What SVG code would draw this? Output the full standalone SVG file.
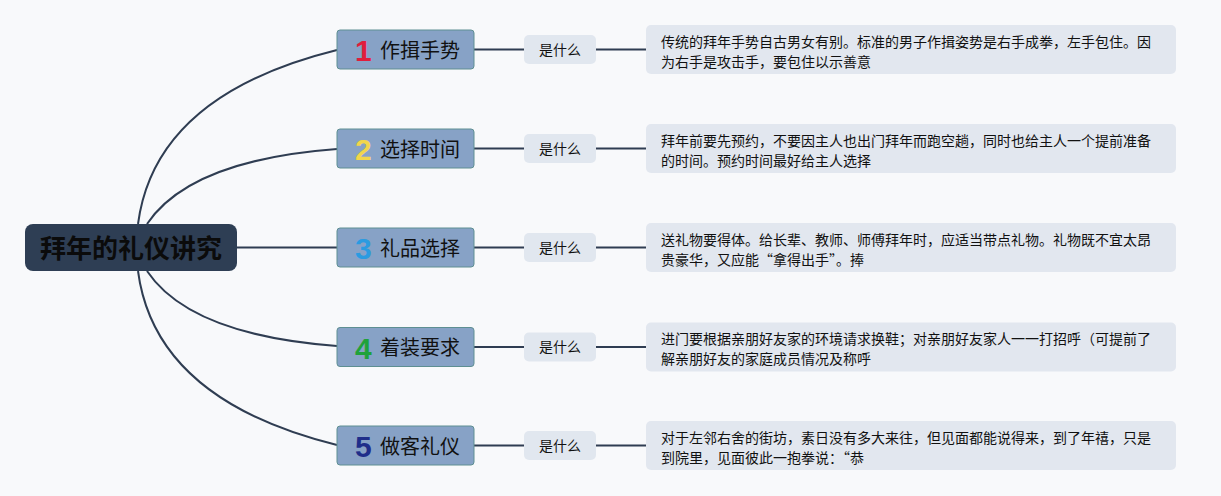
<svg xmlns="http://www.w3.org/2000/svg" width="1221" height="496" viewBox="0 0 1221 496">
<style>
text{font-family:"Noto Sans CJK SC","Noto Sans",sans-serif;}
.conn{fill:none;stroke:#2f3d52;stroke-width:2;}
.branch{fill:#87a2c6;stroke:#5e8f92;stroke-width:1;}
.btxt{font-size:20px;fill:#111;}
.num{font-family:"Liberation Sans","DejaVu Sans",sans-serif;font-weight:bold;font-size:30px;}
.q{fill:#e1e7ef;}
.qtxt{font-size:14px;fill:#111;text-anchor:middle;}
.det{fill:#e2e7ef;}
.dtxt{font-size:14px;fill:#111;}
</style>
<rect width="1221" height="496" fill="#f8f9fb"/>
<g id="connectors">
<path class="conn" d="M138 224 Q155 95 337 50"/>
<path class="conn" d="M147 224 Q190 160 337 149"/>
<path class="conn" d="M237 247.5 L337 247.5"/>
<path class="conn" d="M147 271 Q190 335 337 346"/>
<path class="conn" d="M138 271 Q155 400 337 445"/>
<path class="conn" d="M474 49.5 H524 M596 49.5 H646"/>
<path class="conn" d="M474 148.5 H524 M596 148.5 H646"/>
<path class="conn" d="M474 247.5 H524 M596 247.5 H646"/>
<path class="conn" d="M474 347 H524 M596 347 H646"/>
<path class="conn" d="M474 445.5 H524 M596 445.5 H646"/>
</g>
<g id="root">
<rect x="25" y="224" width="212" height="47" rx="8" fill="#2e3e54"/>
<text x="131" y="251" font-size="26" font-weight="bold" fill="#0b0b0b" text-anchor="middle" dominant-baseline="middle">拜年的礼仪讲究</text>
</g>
<g id="n1">
<rect class="branch" x="337" y="30" width="137" height="39" rx="3"/>
<text class="num" x="355" y="61" fill="#e01e3c">1</text>
<text class="btxt" x="380" y="57.5">作揖手势</text>
<rect class="q" x="524" y="35" width="72" height="29" rx="5"/>
<text class="qtxt" x="560" y="54.5">是什么</text>
<rect class="det" x="646" y="25" width="530" height="49" rx="5"/>
<text class="dtxt" x="661" y="46.5">传统的拜年手势自古男女有别。标准的男子作揖姿势是右手成拳，左手包住。因</text>
<text class="dtxt" x="661" y="66.5">为右手是攻击手，要包住以示善意</text>
</g>
<g id="n2">
<rect class="branch" x="337" y="129" width="137" height="39" rx="3"/>
<text class="num" x="355" y="160" fill="#f2d64b">2</text>
<text class="btxt" x="380" y="156.5">选择时间</text>
<rect class="q" x="524" y="134" width="72" height="29" rx="5"/>
<text class="qtxt" x="560" y="153.5">是什么</text>
<rect class="det" x="646" y="124" width="530" height="49" rx="5"/>
<text class="dtxt" x="661" y="145.5">拜年前要先预约，不要因主人也出门拜年而跑空趟，同时也给主人一个提前准备</text>
<text class="dtxt" x="661" y="165.5">的时间。预约时间最好给主人选择</text>
</g>
<g id="n3">
<rect class="branch" x="337" y="228" width="137" height="39" rx="3"/>
<text class="num" x="355" y="259" fill="#2b9be0">3</text>
<text class="btxt" x="380" y="255.5">礼品选择</text>
<rect class="q" x="524" y="233" width="72" height="29" rx="5"/>
<text class="qtxt" x="560" y="252.5">是什么</text>
<rect class="det" x="646" y="223" width="530" height="49" rx="5"/>
<text class="dtxt" x="661" y="244.5">送礼物要得体。给长辈、教师、师傅拜年时，应适当带点礼物。礼物既不宜太昂</text>
<text class="dtxt" x="661" y="264.5">贵豪华，又应能“拿得出手”。捧</text>
</g>
<g id="n4">
<rect class="branch" x="337" y="327.5" width="137" height="39" rx="3"/>
<text class="num" x="355" y="358.5" fill="#1fa23a">4</text>
<text class="btxt" x="380" y="355">着装要求</text>
<rect class="q" x="524" y="332.5" width="72" height="29" rx="5"/>
<text class="qtxt" x="560" y="352">是什么</text>
<rect class="det" x="646" y="322.5" width="530" height="49" rx="5"/>
<text class="dtxt" x="661" y="344">进门要根据亲朋好友家的环境请求换鞋；对亲朋好友家人一一打招呼（可提前了</text>
<text class="dtxt" x="661" y="364">解亲朋好友的家庭成员情况及称呼</text>
</g>
<g id="n5">
<rect class="branch" x="337" y="426" width="137" height="39" rx="3"/>
<text class="num" x="355" y="457" fill="#1f2e8a">5</text>
<text class="btxt" x="380" y="453.5">做客礼仪</text>
<rect class="q" x="524" y="431" width="72" height="29" rx="5"/>
<text class="qtxt" x="560" y="450.5">是什么</text>
<rect class="det" x="646" y="421" width="530" height="49" rx="5"/>
<text class="dtxt" x="661" y="442.5">对于左邻右舍的街坊，素日没有多大来往，但见面都能说得来，到了年禧，只是</text>
<text class="dtxt" x="661" y="462.5">到院里，见面彼此一抱拳说：“恭</text>
</g>
</svg>
